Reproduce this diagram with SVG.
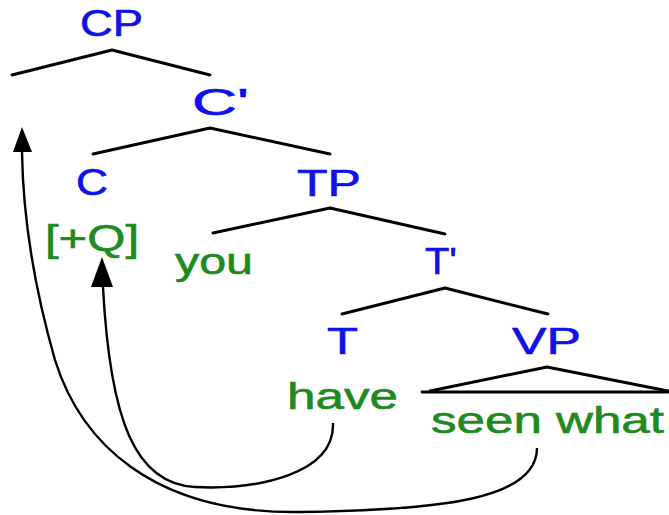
<svg xmlns="http://www.w3.org/2000/svg" width="669" height="515" viewBox="0 0 669 515">
  <defs>
    <style>
      .lbl { font-family: "Liberation Sans", Arial, sans-serif; font-size: 36px; stroke-width: 0.6px; }
      .cat { fill: #1010e8; stroke: #1010e8; }
      .word { fill: #1f8a1f; stroke: #1f8a1f; }
      .branch { stroke: #000; stroke-width: 2.9; fill: none; stroke-linecap: round; stroke-linejoin: round; }
      .move { stroke: #000; stroke-width: 2.4; fill: none; }
      .head { fill: #000; }
    </style>
  </defs>

  <rect width="669" height="515" fill="#fff"/>

  <!-- tree branches -->
  <g id="branches">
    <polyline class="branch" points="12,75 112,50 210,75"/>
    <polyline class="branch" points="93,154 210,128 330,154"/>
    <polyline class="branch" points="213,233 330,208 445,234"/>
    <polyline class="branch" points="342,314 445,288 548,314"/>
    <polyline class="branch" points="430,391 547,367 668,391"/>
    <line class="branch" x1="422" y1="392" x2="668" y2="392"/>
  </g>

  <g id="CP"><text class="lbl cat" x="80" y="36" textLength="63" lengthAdjust="spacingAndGlyphs">CP</text></g>
  <g id="Cbar"><text class="lbl cat" x="192" y="115" textLength="57" lengthAdjust="spacingAndGlyphs">C'</text></g>
  <g id="C"><text class="lbl cat" x="76" y="195" textLength="32" lengthAdjust="spacingAndGlyphs">C</text></g>
  <g id="Q"><text class="lbl word" x="45" y="251" textLength="94" lengthAdjust="spacingAndGlyphs">[+Q]</text></g>
  <g id="TP"><text class="lbl cat" x="297" y="196" textLength="64" lengthAdjust="spacingAndGlyphs">TP</text></g>
  <g id="you"><text class="lbl word" x="175" y="274" textLength="78" lengthAdjust="spacingAndGlyphs">you</text></g>
  <g id="Tbar"><text class="lbl cat" x="425" y="274" textLength="32" lengthAdjust="spacingAndGlyphs">T'</text></g>
  <g id="T"><text class="lbl cat" x="327" y="354" textLength="31" lengthAdjust="spacingAndGlyphs">T</text></g>
  <g id="VP"><text class="lbl cat" x="512" y="354" textLength="69" lengthAdjust="spacingAndGlyphs">VP</text></g>
  <g id="have"><text class="lbl word" x="287" y="409" textLength="111" lengthAdjust="spacingAndGlyphs">have</text></g>
  <g id="seenwhat"><text class="lbl word" x="431" y="433" textLength="233" lengthAdjust="spacingAndGlyphs">seen what</text></g>

  <!-- movement arrows -->
  <g id="connectors">
    <path class="move" d="M333,423 C335,475 255,490 195,487 C135,484 110,420 103,287"/>
    <polygon class="head" points="102,257 91,287 113,287"/>
    <path class="move" d="M537,448 C537,500 440,510 300,512 C150,514 80,440 55,360 C35,290 23,220 22,152"/>
    <polygon class="head" points="22,127 13,152 32,152"/>
  </g>
</svg>
